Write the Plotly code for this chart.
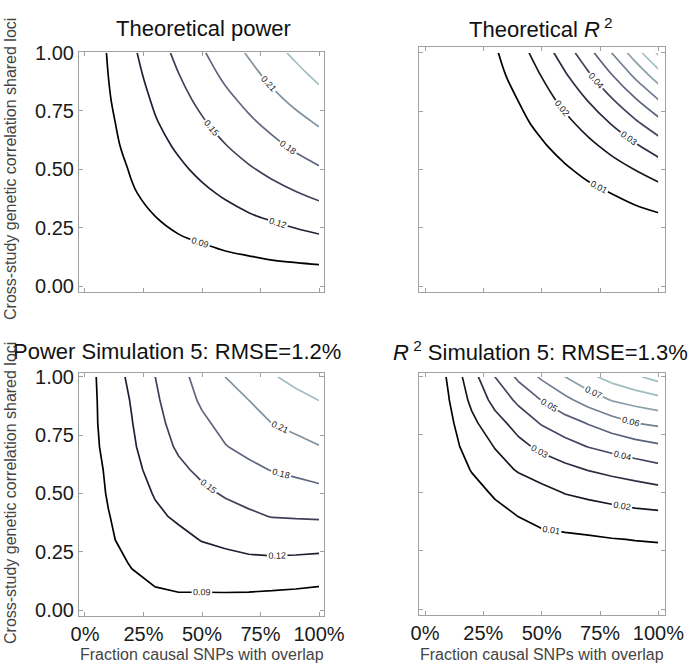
import plotly.graph_objects as go

# ---------------- data ----------------
frac_overlap = [0.0, 0.1, 0.2, 0.3, 0.4, 0.5, 0.6, 0.7, 0.8, 0.9, 1.0]
genetic_corr = [0.0, 0.1, 0.2, 0.3, 0.4, 0.5, 0.6, 0.7, 0.8, 0.9, 1.0]

# rows = genetic_corr (0 -> 1), columns = frac_overlap (0 -> 1)
power_theory = [
    [0.068, 0.068, 0.068, 0.068, 0.068, 0.068, 0.068, 0.068, 0.068, 0.068, 0.068],
    [0.068, 0.070, 0.073, 0.075, 0.078, 0.080, 0.083, 0.085, 0.088, 0.0899, 0.092],
    [0.068, 0.073, 0.078, 0.083, 0.088, 0.092, 0.097, 0.102, 0.106, 0.111, 0.115],
    [0.068, 0.075, 0.083, 0.0901, 0.097, 0.104, 0.111, 0.118, 0.124, 0.130, 0.137],
    [0.068, 0.078, 0.088, 0.097, 0.106, 0.115, 0.124, 0.132, 0.141, 0.149, 0.157],
    [0.068, 0.080, 0.092, 0.104, 0.115, 0.126, 0.137, 0.147, 0.157, 0.167, 0.177],
    [0.068, 0.083, 0.097, 0.111, 0.124, 0.137, 0.149, 0.161, 0.173, 0.185, 0.196],
    [0.068, 0.085, 0.102, 0.118, 0.132, 0.147, 0.161, 0.175, 0.188, 0.201, 0.213],
    [0.068, 0.088, 0.106, 0.124, 0.141, 0.157, 0.173, 0.188, 0.203, 0.217, 0.230],
    [0.068, 0.0901, 0.111, 0.130, 0.149, 0.167, 0.185, 0.201, 0.217, 0.231, 0.246],
    [0.068, 0.092, 0.115, 0.137, 0.157, 0.177, 0.196, 0.213, 0.230, 0.246, 0.262],
]

r2_theory = [
    [0, 0, 0, 0, 0, 0, 0, 0, 0, 0, 0],
    [0, 0.00001, 0.00004, 0.00009, 0.00016, 0.00025, 0.00036, 0.00049, 0.00064, 0.00081, 0.001],
    [0, 0.00004, 0.00016, 0.00036, 0.00064, 0.001, 0.00144, 0.00196, 0.00256, 0.00324, 0.004],
    [0, 0.00009, 0.00036, 0.00081, 0.00144, 0.00225, 0.00324, 0.00441, 0.00576, 0.00729, 0.009],
    [0, 0.00016, 0.00064, 0.00144, 0.00256, 0.004, 0.00576, 0.00784, 0.0102, 0.0130, 0.0160],
    [0, 0.00025, 0.001, 0.00225, 0.004, 0.00625, 0.009, 0.0123, 0.0160, 0.0202, 0.0247],
    [0, 0.00036, 0.00144, 0.00324, 0.00576, 0.009, 0.0130, 0.0176, 0.0229, 0.0287, 0.0349],
    [0, 0.00049, 0.00196, 0.00441, 0.00784, 0.0123, 0.0176, 0.0238, 0.0307, 0.0383, 0.0467],
    [0, 0.00064, 0.00256, 0.00576, 0.0102, 0.0160, 0.0229, 0.0307, 0.0394, 0.0492, 0.0601],
    [0, 0.00081, 0.00324, 0.00729, 0.0130, 0.0202, 0.0287, 0.0383, 0.0492, 0.0614, 0.0750],
    [0, 0.001, 0.004, 0.009, 0.0160, 0.0247, 0.0349, 0.0467, 0.0601, 0.0750, 0.0918],
]

power_sim = [
    [0.068, 0.069, 0.070, 0.072, 0.0814, 0.0795, 0.0777, 0.0753, 0.0729, 0.072, 0.070],
    [0.071, 0.078, 0.085, 0.0901, 0.0927, 0.0933, 0.0941, 0.0944, 0.0935, 0.092, 0.0899],
    [0.072, 0.082, 0.0915, 0.098, 0.104, 0.107, 0.110, 0.113, 0.114, 0.113, 0.111],
    [0.073, 0.0875, 0.096, 0.104, 0.1125, 0.121, 0.126, 0.131, 0.133, 0.1326, 0.132],
    [0.074, 0.089, 0.102, 0.115, 0.124, 0.132, 0.139, 0.1465, 0.1506, 0.1516, 0.1527],
    [0.075, 0.092, 0.107, 0.122, 0.133, 0.144, 0.153, 0.157, 0.162, 0.167, 0.172],
    [0.076, 0.094, 0.112, 0.129, 0.144, 0.156, 0.165, 0.174, 0.181, 0.186, 0.191],
    [0.077, 0.098, 0.116, 0.136, 0.154, 0.166, 0.179, 0.187, 0.194, 0.202, 0.209],
    [0.078, 0.100, 0.119, 0.142, 0.160, 0.175, 0.188, 0.199, 0.2102, 0.217, 0.2245],
    [0.078, 0.101, 0.122, 0.146, 0.166, 0.184, 0.197, 0.2101, 0.220, 0.230, 0.2405],
    [0.078, 0.103, 0.127, 0.150, 0.171, 0.191, 0.2103, 0.223, 0.237, 0.250, 0.263],
]

r2_sim = [
    [0, 0, 0, 0, 0, 0, 0, 0, 0, 0, 0],
    [0, 0.0006, 0.0012, 0.0018, 0.0022, 0.0025, 0.0028, 0.0030, 0.0032, 0.0034, 0.0035],
    [0, 0.0013, 0.0025, 0.0036, 0.0044, 0.0050, 0.0055, 0.0059, 0.0064, 0.0068, 0.0070],
    [0, 0.0020, 0.0038, 0.0055, 0.0066, 0.0074, 0.0082, 0.0088, 0.0097, 0.0102, 0.0105],
    [0, 0.0026, 0.0051, 0.0077, 0.0101, 0.0130, 0.0142, 0.0154, 0.0164, 0.0174, 0.0179],
    [0, 0.0037, 0.0073, 0.0109, 0.0142, 0.0174, 0.0203, 0.0219, 0.0235, 0.0250, 0.0266],
    [0, 0.0052, 0.0104, 0.0160, 0.0209, 0.0241, 0.0274, 0.0304, 0.0326, 0.0347, 0.0369],
    [0, 0.0066, 0.0136, 0.0205, 0.0272, 0.0324, 0.0365, 0.0404, 0.0431, 0.0458, 0.0484],
    [0, 0.0076, 0.0177, 0.0262, 0.0338, 0.0408, 0.0457, 0.0506, 0.0553, 0.0599, 0.0619],
    [0, 0.0095, 0.0221, 0.0332, 0.0421, 0.0504, 0.0575, 0.0644, 0.0706, 0.0738, 0.0769],
    [0, 0.0111, 0.0260, 0.0401, 0.0521, 0.0617, 0.0701, 0.0778, 0.0836, 0.0886, 0.0936],
]

x_tick_vals = [0.0, 0.25, 0.5, 0.75, 1.0]
x_tick_text = ["0%", "25%", "50%", "75%", "100%"]
y_tick_vals = [0.0, 0.25, 0.5, 0.75, 1.0]
y_tick_text = ["0.00", "0.25", "0.50", "0.75", "1.00"]

panel_titles = [
    "Theoretical power",
    "Theoretical <i>R</i><sup> 2</sup>",
    "Power Simulation 5: RMSE=1.2%",
    "<i>R</i><sup> 2</sup> Simulation 5: RMSE=1.3%",
]
x_title = "Fraction causal SNPs with overlap"
y_title = "Cross-study genetic correlation shared loci"

# ---------------- styling ----------------
FONT = "Liberation Sans, Arial, Helvetica, sans-serif"
W, H = 696, 665
bone = [[0.0, "#000000"], [0.2, "#202033"], [0.4, "#404059"],
        [0.6, "#606680"], [0.8, "#8092a0"], [1.0, "#a1bec0"]]


def contour(z, levels, zmin, zmax, smooth, xa, ya):
    return go.Contour(
        x=frac_overlap, y=genetic_corr, z=z,
        xaxis=xa, yaxis=ya,
        autocontour=False, contours=dict(
            start=levels[0], end=levels[1], size=levels[2],
            coloring="lines", showlabels=True,
            labelfont=dict(size=9, color="#222222", family=FONT),
            labelformat=".2f"),
        colorscale=bone, zauto=False, zmin=zmin, zmax=zmax,
        line=dict(width=1.7, smoothing=smooth),
        showscale=False, hoverinfo="skip")


power_lv = (0.09, 0.24, 0.03)
r2_lv = (0.01, 0.09, 0.01)

fig = go.Figure()
fig.add_trace(contour(power_theory, power_lv, 0.09, 0.24, 1.0, "x", "y"))
fig.add_trace(contour(r2_theory, r2_lv, 0.01, 0.085, 1.0, "x2", "y2"))
fig.add_trace(contour(power_sim, power_lv, 0.09, 0.24, 0.0, "x3", "y3"))
fig.add_trace(contour(r2_sim, r2_lv, 0.01, 0.085, 0.0, "x4", "y4"))


def px_x(a, b):
    return [a / W, b / W]


def px_y(top, bottom):
    return [1 - bottom / H, 1 - top / H]


def axis(domain, rng, anchor, vals, text, show):
    return dict(domain=domain, range=rng, anchor=anchor, automargin=False,
                showgrid=False, zeroline=False, showline=True,
                linecolor="#a0a0a0", linewidth=1, mirror="ticks",
                ticks="inside", ticklen=4, tickcolor="#a0a0a0",
                tickvals=vals, ticktext=text, showticklabels=show,
                tickfont=dict(size=20, color="#1a1a1a", family=FONT))


xl = px_x(79, 324.3)
xr = px_x(419.3, 664.5)
xrng_l = [-0.0256, 1.0226]
xrng_r = [-0.0244, 1.026]

fig.update_layout(
    width=W, height=H, margin=dict(l=0, r=0, t=0, b=0, pad=0, autoexpand=False),
    paper_bgcolor="white", plot_bgcolor="white", showlegend=False,
    font=dict(family=FONT),
    xaxis=axis(xl, xrng_l, "y", x_tick_vals, x_tick_text, False),
    yaxis=axis(px_y(51.7, 292.3), [-0.027, 1.004], "x", y_tick_vals, y_tick_text, True),
    xaxis2=axis(xr, xrng_r, "y2", x_tick_vals, x_tick_text, False),
    yaxis2=axis(px_y(46.7, 292.3), [-0.027, 1.026], "x2", y_tick_vals, y_tick_text, False),
    xaxis3=axis(xl, xrng_l, "y3", x_tick_vals, x_tick_text, True),
    yaxis3=axis(px_y(372.7, 616), [-0.0257, 1.017], "x3", y_tick_vals, y_tick_text, True),
    xaxis4=axis(xr, xrng_r, "y4", x_tick_vals, x_tick_text, True),
    yaxis4=axis(px_y(372.7, 615), [-0.0257, 1.017], "x4", y_tick_vals, y_tick_text, False),
)

title_pos = [(203, 28), (541, 28), (177, 351), (540, 351)]
for t, (cx, cy) in zip(panel_titles, title_pos):
    fig.add_annotation(text=t, x=cx / W, y=1 - cy / H, xref="paper", yref="paper",
                       showarrow=False, xanchor="center", yanchor="middle",
                       font=dict(size=22, color="#111111", family=FONT))

for cx in (202, 541.7):
    fig.add_annotation(text=x_title, x=cx / W, y=1 - 654 / H, xref="paper", yref="paper",
                       showarrow=False, xanchor="center", yanchor="middle",
                       font=dict(size=16, color="#444444", family=FONT))
for cy in (169, 493):
    fig.add_annotation(text=y_title, x=10 / W, y=1 - cy / H, xref="paper", yref="paper",
                       showarrow=False, xanchor="center", yanchor="middle", textangle=-90,
                       font=dict(size=16, color="#444444", family=FONT))

fig.write_html(
    "out.html",
    config={"displayModeBar": False},
    post_script="document.body.style.margin='0px';document.body.style.overflow='hidden';",
)
